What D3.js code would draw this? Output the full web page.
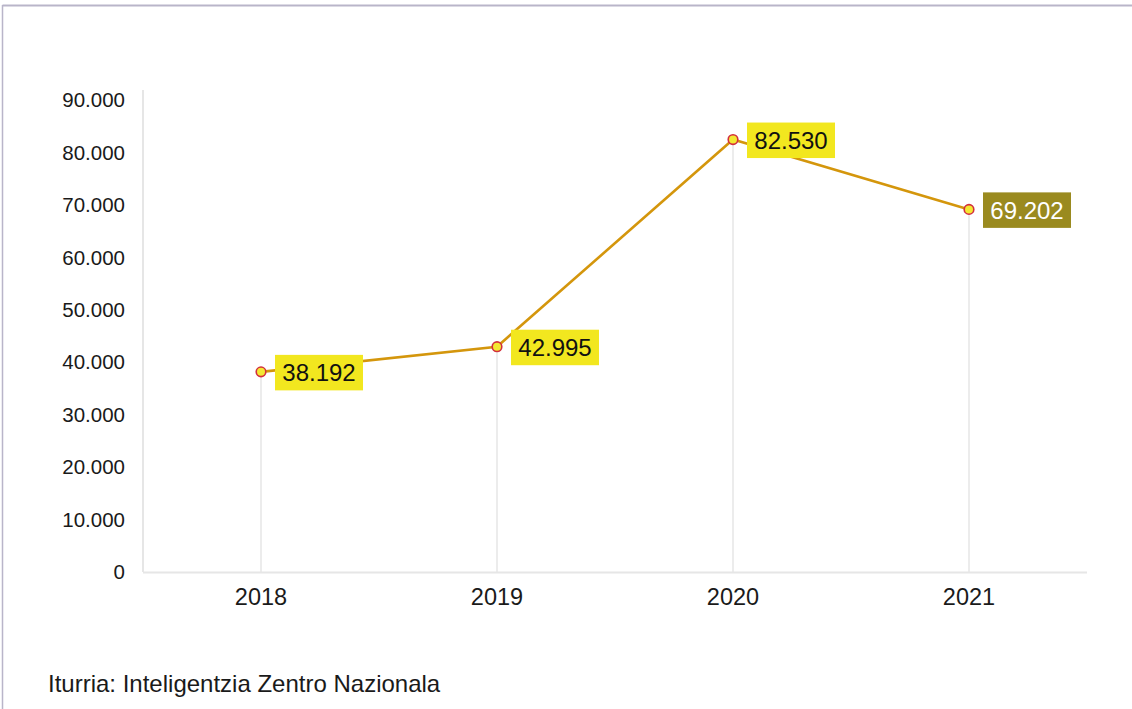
<!DOCTYPE html>
<html><head><meta charset="utf-8">
<script src="https://cdn.jsdelivr.net/npm/d3@7"></script>
<style>body{margin:0;background:#fff}svg{display:block;font-family:Arial,"Liberation Sans",sans-serif}</style>
</head><body><svg id="c" width="1132" height="709"></svg>
<script>
const years = ["2018","2019","2020","2021"];
const values = [38192, 42995, 82530, 69202];
const labels = ["38.192","42.995","82.530","69.202"];
const yTicks = [0,10000,20000,30000,40000,50000,60000,70000,80000,90000];
const source = "Iturria: Inteligentzia Zentro Nazionala";

const svg = d3.select("#c");
// frame
svg.append("line").attr("x1",2.5).attr("x2",1132).attr("y1",5.5).attr("y2",5.5).attr("stroke","#b9b5c9").attr("stroke-width",2);
svg.append("line").attr("x1",2.5).attr("x2",2.5).attr("y1",5).attr("y2",709).attr("stroke","#b9b5c9").attr("stroke-width",1.5);

const x = d3.scaleBand().domain(years).range([143,1087]).padding(0);
const y = d3.scaleLinear().domain([0,90000]).range([572,100.4]);
const cx = d => x(d)+x.bandwidth()/2;

const fmt = v => d3.format(",")(v).replace(/,/g,".");
const FF = "Arial,'Liberation Sans',sans-serif";

// y axis
const ya = svg.append("g").attr("transform","translate(143,0)")
  .call(d3.axisLeft(y).tickValues(yTicks).tickFormat(fmt).tickSize(0).tickPadding(18));
ya.select(".domain").remove();
ya.selectAll("text").attr("font-size",20.5).attr("fill","#1a1a1a").attr("font-family",FF);
svg.append("line").attr("x1",143).attr("x2",143).attr("y1",90).attr("y2",572).attr("stroke","#e6e6e6").attr("stroke-width",2);

// x axis baseline
svg.append("line").attr("x1",143).attr("x2",1087).attr("y1",572.5).attr("y2",572.5).attr("stroke","#e6e6e6").attr("stroke-width",2);
const xa = svg.append("g").attr("transform","translate(0,572)")
  .call(d3.axisBottom(x).tickSize(0).tickPadding(16));
xa.select(".domain").remove();
xa.selectAll("text").attr("font-size",23.5).attr("fill","#1a1a1a").attr("font-family",FF);

const data = years.map((yr,i)=>({yr, v:values[i], lab:labels[i]}));

// drop lines
svg.append("g").selectAll("line").data(data).join("line")
  .attr("x1",d=>cx(d.yr)).attr("x2",d=>cx(d.yr))
  .attr("y1",d=>y(d.v)).attr("y2",572)
  .attr("stroke","#e6e6e6").attr("stroke-width",1.5);

// line
svg.append("path").datum(data)
  .attr("d", d3.line().x(d=>cx(d.yr)).y(d=>y(d.v)))
  .attr("fill","none").attr("stroke","#d4960c").attr("stroke-width",2.6);

// markers
svg.append("g").selectAll("circle").data(data).join("circle")
  .attr("cx",d=>cx(d.yr)).attr("cy",d=>y(d.v)).attr("r",4.8)
  .attr("fill","#f3e832").attr("stroke","#d22f3c").attr("stroke-width",1.6);

// labels
const lg = svg.append("g").selectAll("g").data(data).join("g")
  .attr("transform",d=>`translate(${cx(d.yr)+14},${y(d.v)})`);
lg.append("rect").attr("x",0).attr("y",-17).attr("width",88).attr("height",35.5)
  .attr("fill",(d,i)=>i===3?"#9a8a1f":"#f2e71f");
lg.append("text").attr("x",44).attr("y",9.5).attr("text-anchor","middle")
  .attr("font-size",24).attr("fill",(d,i)=>i===3?"#ffffff":"#111").attr("font-family",FF)
  .text(d=>d.lab);

// source
svg.append("text").attr("x",48).attr("y",692).attr("font-size",24).attr("fill","#1a1a1a").attr("font-family",FF).text(source);
</script></body></html>
